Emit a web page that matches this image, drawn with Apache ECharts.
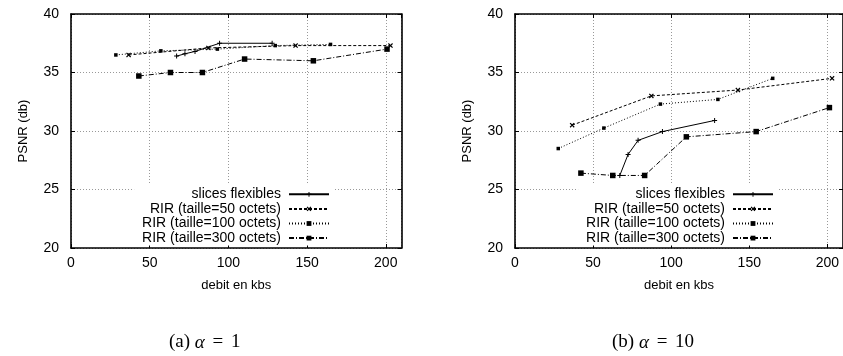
<!DOCTYPE html>
<html>
<head>
<meta charset="utf-8">
<script src="https://cdn.jsdelivr.net/npm/echarts@6/dist/echarts.min.js"></script>
<style>
  html, body { margin: 0; padding: 0; background: #fff; }
  #chart { width: 843px; height: 356px; }
</style>
</head>
<body>
<div id="chart"></div>
<script>
// axes
const xTicks = [0, 50, 100, 150, 200];
const xMax = 210;
const yTicks = [20, 25, 30, 35, 40];

const seriesNames = [
  'slices flexibles',
  'RIR (taille=50 octets)',
  'RIR (taille=100 octets)',
  'RIR (taille=300 octets)'
];

// (a) alpha = 1  -> [debit kbs, PSNR db]
const slicesA = [[67.1, 36.4], [72.4, 36.6], [78.8, 36.8], [94.4, 37.5], [127.8, 37.5]];
const rir50A = [[36.6, 36.5], [87.3, 37.1], [142.7, 37.3], [203, 37.3]];
const rir100A = [[28.5, 36.5], [57.1, 36.85], [93, 37.0], [129.8, 37.3], [164.9, 37.4]];
const rir300A = [[43.1, 34.7], [63.2, 35.0], [83.5, 35.0], [110.3, 36.15], [154, 36.0], [200.8, 37.0]];

// (b) alpha = 10
const slicesB = [[67.1, 26.2], [72.4, 28.0], [78.8, 29.2], [94.4, 29.95], [127.8, 30.9]];
const rir50B = [[36.6, 30.5], [87.3, 33.0], [142.7, 33.5], [203, 34.5]];
const rir100B = [[27.7, 28.5], [56.9, 30.25], [93.1, 32.3], [129.9, 32.7], [165, 34.5]];
const rir300B = [[42.2, 26.4], [62.6, 26.2], [83, 26.2], [109.7, 29.5], [154.4, 29.95], [201.3, 32.0]];

const captions = ['(a) {i|α} {s|=} 1', '(b) {i|α} {s|=} 10'];

const FONT = 'Liberation Sans';
const plusPath = 'path://M2,0H3V2H5V3H3V5H2V3H0V2H2Z';
const crossPath = 'path://M0,1L1,0L3,2L5,0L6,1L4,3L6,5L5,6L3,4L1,6L0,5L2,3Z';

// line + marker styles per series (same order as seriesNames)
const styles = [
  { type: 'solid', symbol: plusPath, size: 5 },
  { type: [3, 2], symbol: crossPath, size: 5 },
  { type: [1, 2], symbol: 'rect', size: 3.5 },
  { type: [5, 2, 1, 2], symbol: 'rect', size: 5.5 }
];

const grids = [
  { left: 71, top: 14, width: 330.5, height: 234 },
  { left: 515, top: 14, width: 328, height: 234 }
];

const chart = echarts.init(document.getElementById('chart'));

function makeX(gi, pos) {
  const main = pos === 'bottom';
  return {
    type: 'value', gridIndex: gi, position: pos,
    min: xTicks[0], max: xMax, interval: xTicks[1] - xTicks[0],
    name: main ? 'debit en kbs' : '', nameLocation: 'middle', nameGap: 31,
    nameTextStyle: { fontFamily: FONT, fontSize: 13, color: '#000' },
    axisLine: { show: true, onZero: false, lineStyle: { color: '#000', width: 1.6 } },
    axisTick: { show: true, inside: true, length: 4, lineStyle: { color: '#000' } },
    axisLabel: { show: main, showMaxLabel: false, margin: 8, fontFamily: FONT, fontSize: 14, color: '#000' },
    splitLine: { show: main, lineStyle: { color: '#999', type: [1, 2], width: 1 } }
  };
}

function makeY(gi, pos) {
  const main = pos === 'left';
  return {
    type: 'value', gridIndex: gi, position: pos,
    min: yTicks[0], max: yTicks[yTicks.length - 1], interval: yTicks[1] - yTicks[0],
    name: main ? 'PSNR (db)' : '', nameLocation: 'middle', nameGap: 41,
    nameTextStyle: { fontFamily: FONT, fontSize: 13, color: '#000' },
    axisLine: { show: true, onZero: false, lineStyle: { color: '#000', width: 1.6 } },
    axisTick: { show: true, inside: true, length: 4, lineStyle: { color: '#000' } },
    axisLabel: { show: main, margin: 12, fontFamily: FONT, fontSize: 14, color: '#000' },
    splitLine: { show: main, lineStyle: { color: '#999', type: [1, 2], width: 1 } }
  };
}

function makeSeries(gi, datasets) {
  return datasets.map((d, i) => ({
    name: seriesNames[i],
    type: 'line',
    xAxisIndex: gi * 2,
    yAxisIndex: gi * 2,
    data: d,
    symbol: styles[i].symbol,
    symbolSize: styles[i].size,
    showAllSymbol: true,
    animation: false,
    lineStyle: { color: '#000', width: 1, type: styles[i].type },
    itemStyle: { color: '#000' },
    emphasis: { disabled: true }
  }));
}

function makeLegend(gi) {
  const g = grids[gi];
  return {
    orient: 'vertical',
    align: 'right',
    right: 843 - (g.left + 262),
    top: 184,
    padding: [3, 3, 0, 8],
    itemGap: 0,
    itemWidth: 40,
    itemHeight: 6,
    backgroundColor: '#fff',
    selectedMode: false,
    textStyle: { fontFamily: FONT, fontSize: 14, color: '#000', lineHeight: 14.6, padding: [0, 3, 0, 0] },
    data: seriesNames
  };
}

const option = {
  animation: false,
  backgroundColor: '#fff',
  grid: grids,
  xAxis: [makeX(0, 'bottom'), makeX(0, 'top'), makeX(1, 'bottom'), makeX(1, 'top')],
  yAxis: [makeY(0, 'left'), makeY(0, 'right'), makeY(1, 'left'), makeY(1, 'right')],
  legend: [makeLegend(0), makeLegend(1)],
  series: [
    ...makeSeries(0, [slicesA, rir50A, rir100A, rir300A]),
    ...makeSeries(1, [slicesB, rir50B, rir100B, rir300B])
  ],
  graphic: captions.map((c, i) => ({
    type: 'text',
    left: i === 0 ? 169 : 612,
    top: 333,
    style: {
      text: c,
      fontFamily: 'Liberation Serif',
      fontSize: 19,
      fill: '#000',
      rich: {
        i: { fontFamily: 'Liberation Serif', fontStyle: 'italic', fontSize: 19 },
        s: { fontFamily: 'Liberation Serif', fontSize: 19, padding: [0, 3, 0, 3] }
      }
    }
  }))
};

chart.setOption(option);
</script>
</body>
</html>
